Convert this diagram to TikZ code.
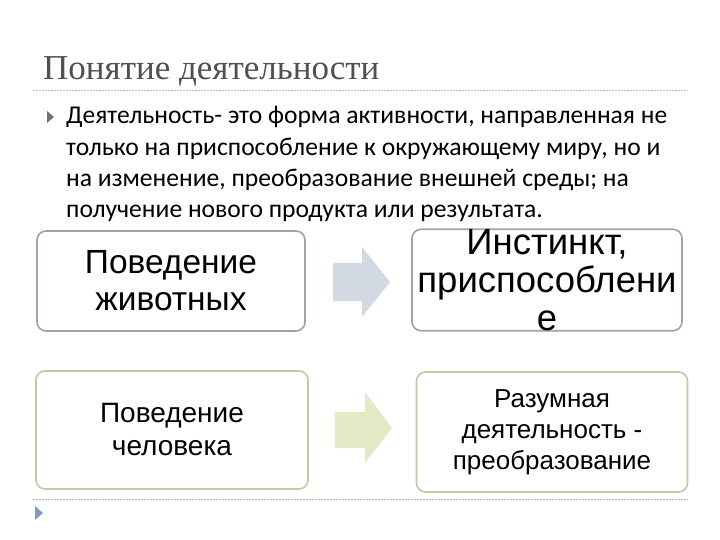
\documentclass[tikz,border=0pt]{standalone}
\usepackage{fontspec}
\setmainfont{Liberation Sans}
\newfontfamily\bodyfont{Carlito}
\newfontfamily\titlefont{Liberation Serif}
\definecolor{titlegray}{HTML}{505050}
\definecolor{rulegray}{HTML}{B8B8B8}
\definecolor{boxblue}{HTML}{9AA3AE}
\definecolor{boxgreen}{HTML}{C4C89A}
\definecolor{arrblue}{HTML}{D2D9E3}
\definecolor{arrgreen}{HTML}{E5EAC6}
\definecolor{bulletblue}{HTML}{7F9CC0}
\tikzset{
  box/.style={draw, rounded corners=9pt, line width=1.6pt, fill=white, align=center, inner sep=0pt},
  bluebox/.style={box, draw=boxblue},
  greenbox/.style={box, draw=boxgreen},
  rule/.style={draw=rulegray, dashed, dash pattern=on 2pt off 1pt, line width=0.6pt},
}
\begin{document}
\begin{tikzpicture}[x=1pt,y=-1pt]
\useasboundingbox (0,0) rectangle (720,540);
% title
\node[anchor=west, inner sep=0pt, text=titlegray, font=\titlefont\fontsize{35}{40}\selectfont] (title) at (43,71) {Понятие деятельности};
\draw[rule] (33,90) coordinate (r1a) -- (688,90) coordinate (r1b);
% bullet
\fill[titlegray!80] (47,111) -- (54,117) -- (47,123) -- cycle;
\node[anchor=north west, inner sep=0pt, align=left, font=\bodyfont\fontsize{25.6}{31.3}\selectfont] (body) at (66,106.5)
{Деятельность- это форма активности, направленная не\\
только на приспособление к окружающему миру, но и\\
на изменение, преобразование внешней среды; на\\
получение нового продукта или результата.};
% boxes
\node[bluebox, minimum width=268pt, minimum height=100pt, font=\fontsize{33.5}{37}\selectfont] (b1) at (171,281) {Поведение\\животных};
\node[bluebox, minimum width=270pt, minimum height=100pt, font=\fontsize{36.5}{38}\selectfont] (b2) at (547,280) {Инстинкт,\\приспособлени\\е};
\node[greenbox, minimum width=272pt, minimum height=118pt, font=\fontsize{28}{33}\selectfont] (b3) at (172,430) {Поведение\\человека};
\node[greenbox, minimum width=271pt, minimum height=120pt, font=\fontsize{26}{31}\selectfont] (b4) at (552,432) {Разумная\\деятельность -\\преобразование};
% arrows
\fill[arrblue] (333,263) -- (362,263) -- (362,247) -- (390,282) -- (362,317) -- (362,301) -- (333,301) -- cycle;
\fill[arrgreen] (335,412) -- (365,412) -- (365,392) -- (392,428) -- (365,463) -- (365,448) -- (335,448) -- cycle;
% bottom rule and bullet
\draw[rule] (33,499) coordinate (r2a) -- (688,499) coordinate (r2b);
\fill[bulletblue] (35,506) -- (43,513) -- (35,520) -- cycle;
\end{tikzpicture}
\end{document}
